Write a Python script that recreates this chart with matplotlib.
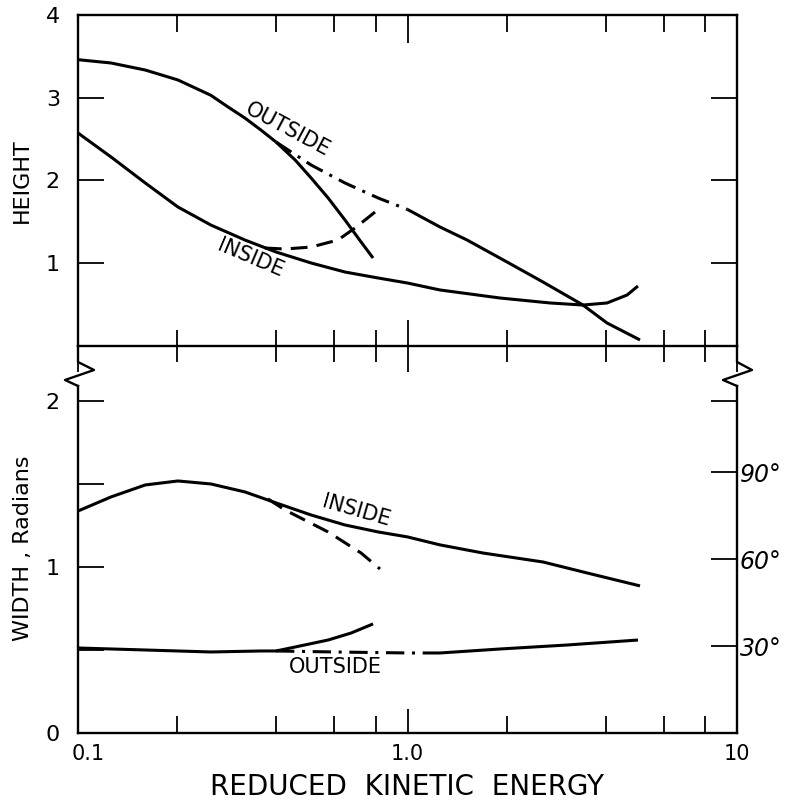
import numpy as np
import matplotlib
matplotlib.use("Agg")
from matplotlib import pyplot as plt
from matplotlib.lines import Line2D
from matplotlib.transforms import ScaledTranslation

plt.rcParams['font.family'] = ['DejaVu Sans']

# ---- data ----
# top panel (HEIGHT)
out_h_x = [0.100, 0.126, 0.160, 0.201, 0.253, 0.285, 0.321, 0.359, 0.399]
out_h_y = [3.46, 3.42, 3.335, 3.215, 3.03, 2.89, 2.755, 2.61, 2.465]
out_h_steep_x = [0.399, 0.456, 0.510, 0.574, 0.646, 0.723, 0.786]
out_h_steep_y = [2.465, 2.248, 2.03, 1.79, 1.523, 1.257, 1.063]
out_h_dd_x = [0.399, 0.510, 0.646, 0.814, 1.0]
out_h_dd_y = [2.465, 2.187, 1.97, 1.789, 1.65]
out_h_tail_x = [1.0, 1.255, 1.516, 2.005, 2.578, 3.409, 4.032, 5.077]
out_h_tail_y = [1.65, 1.438, 1.281, 1.015, 0.773, 0.495, 0.278, 0.073]

in_h_x = [0.100, 0.126, 0.160, 0.201, 0.253, 0.321, 0.399, 0.510, 0.646, 0.814,
          1.0, 1.255, 1.909, 2.707, 3.409, 4.032, 4.638, 5.006]
in_h_y = [2.574, 2.284, 1.97, 1.68, 1.462, 1.281, 1.136, 1.003, 0.894, 0.822,
          0.761, 0.677, 0.58, 0.52, 0.495, 0.52, 0.616, 0.725]
in_h_dash_x = [0.369, 0.425, 0.510, 0.615, 0.693, 0.797]
in_h_dash_y = [1.184, 1.172, 1.196, 1.281, 1.426, 1.619]

# bottom panel (WIDTH, radians)
in_w_x = [0.100, 0.126, 0.160, 0.201, 0.253, 0.321, 0.399, 0.510, 0.646, 0.814,
          1.0, 1.255, 1.695, 2.578, 3.506, 5.077]
in_w_y = [1.337, 1.422, 1.494, 1.518, 1.50, 1.452, 1.386, 1.313, 1.253, 1.211,
          1.181, 1.133, 1.084, 1.03, 0.964, 0.886]
in_w_dash_x = [0.377, 0.425, 0.574, 0.723, 0.825]
in_w_dash_y = [1.41, 1.343, 1.211, 1.084, 0.988]

out_w_x = [0.100, 0.160, 0.253, 0.359, 0.399]
out_w_y = [0.512, 0.50, 0.488, 0.494, 0.494]
out_w_rise_x = [0.399, 0.456, 0.574, 0.674, 0.786]
out_w_rise_y = [0.494, 0.518, 0.56, 0.602, 0.657]
out_w_dd_x = [0.399, 0.6, 1.0, 1.255]
out_w_dd_y = [0.494, 0.488, 0.482, 0.482]
out_w_tail_x = [1.255, 1.909, 3.049, 5.006]
out_w_tail_y = [0.482, 0.506, 0.53, 0.56]

xmajor = [0.1, 1, 10]
xminor = [0.2, 0.4, 0.6, 0.8, 2, 4, 6, 8]
xlabels = ['0.1', '1.0', '10']
deg_ticks = [30, 60, 90]

W, H = 788, 806
fig = plt.figure(figsize=(W / 100, H / 100), dpi=100)

def fx(px):
    return px / W

def fy(py):
    return 1 - py / H

ax1 = fig.add_axes([fx(78), fy(346), fx(737) - fx(78), fy(15) - fy(346)])
ax2 = fig.add_axes([fx(78), fy(733), fx(737) - fx(78), fy(386) - fy(733)])

lw = 2.2
solid = dict(color='black', lw=lw, solid_capstyle='butt')
dashed = dict(color='black', lw=lw, ls=(0, (5.5, 3)))
dashdot = dict(color='black', lw=lw, ls=(0, (6, 2.5, 1, 2.5)))

ax1.plot(out_h_x, out_h_y, **solid)
ax1.plot(out_h_steep_x, out_h_steep_y, **solid)
ax1.plot(out_h_dd_x, out_h_dd_y, **dashdot)
ax1.plot(out_h_tail_x, out_h_tail_y, **solid)
ax1.plot(in_h_x, in_h_y, **solid)
ax1.plot(in_h_dash_x, in_h_dash_y, **dashed)

ax2.plot(in_w_x, in_w_y, **solid)
ax2.plot(in_w_dash_x, in_w_dash_y, **dashed)
ax2.plot(out_w_x, out_w_y, **solid)
ax2.plot(out_w_rise_x, out_w_rise_y, **solid)
ax2.plot(out_w_dd_x, out_w_dd_y, **dashdot)
ax2.plot(out_w_tail_x, out_w_tail_y, **solid)

lab = dict(fontsize=15, color='black', ha='center', va='center')
ax1.text(0.434, 2.62, 'OUTSIDE', rotation=-28, **lab)
ax1.text(0.335, 1.06, 'INSIDE', rotation=-23, **lab)
ax2.text(0.699, 1.34, 'INSIDE', rotation=-16, **lab)
ax2.text(0.606, 0.40, 'OUTSIDE', **lab)

for ax in (ax1, ax2):
    ax.set_xscale('log')
    ax.set_xlim(0.1, 10)
    ax.set_xticks(xmajor)
    ax.set_xticks(xminor, minor=True)
    for s in ax.spines.values():
        s.set_linewidth(1.7)

# top panel
ax1.set_ylim(0, 4)
ax1.set_yticks([1, 2, 3, 4])
ax1.set_yticklabels(['1', '2', '3', '4'], fontsize=16)
ax1.tick_params(axis='y', which='both', direction='in', length=19, width=1.3,
                left=True, right=True, pad=13)
ax1.tick_params(axis='x', which='major', direction='inout', length=37, width=1.3,
                labelbottom=False)
ax1.tick_params(axis='x', which='minor', direction='inout', length=23, width=1.3)
ax1.set_ylabel('HEIGHT', fontsize=16)
ax1.yaxis.set_label_coords(-0.070, 0.5)

top = ax1.twiny()
top.set_xscale('log')
top.set_xlim(0.1, 10)
top.set_xticks(xmajor)
top.set_xticks(xminor, minor=True)
top.tick_params(axis='x', which='major', direction='in', length=20, width=1.3,
                labeltop=False)
top.tick_params(axis='x', which='minor', direction='in', length=12, width=1.3)
for s in top.spines.values():
    s.set_visible(False)

# bottom panel
ax2.set_ylim(0, 2.09)
ax2.spines['top'].set_visible(False)
ax2.set_yticks([0, 1, 2])
ax2.set_yticks([0.5, 1.5], minor=True)
ax2.set_yticklabels(['0', '1', '2'], fontsize=16)
ax2.tick_params(axis='y', which='both', direction='in', length=19, width=1.3,
                pad=13)
ax2.tick_params(axis='x', which='major', direction='in', length=17, width=1.3,
                pad=8, labelsize=15)
ax2.tick_params(axis='x', which='minor', direction='in', length=12, width=1.3)
ax2.set_xticklabels(xlabels)
lbl0 = ax2.get_xticklabels()[0]
lbl0.set_transform(lbl0.get_transform() + ScaledTranslation(0.10, 0, fig.dpi_scale_trans))
ax2.set_ylabel('WIDTH , Radians', fontsize=16)
ax2.yaxis.set_label_coords(-0.068, 0.533)
ax2.set_xlabel('REDUCED  KINETIC  ENERGY', fontsize=20)
ax2.xaxis.set_label_coords(0.5, -0.115)

rt = ax2.twinx()
rt.set_ylim(ax2.get_ylim())
rt.set_yticks(list(np.radians(deg_ticks)) + [2.0])
rt.set_yticklabels([f'{d}°' for d in deg_ticks] + [''], fontsize=17, style='italic')
rt.tick_params(axis='y', direction='in', length=19, width=1.3, pad=2)
for s in rt.spines.values():
    s.set_visible(False)

# axis break marks between the panels
for xs in ([78, 78, 94, 65, 78, 78], [737, 737, 752, 723, 737, 737]):
    ys = [346, 362, 370, 380, 386, 386]
    fig.add_artist(Line2D([fx(v) for v in xs], [fy(v) for v in ys],
                          transform=fig.transFigure, color='black', lw=1.7))

fig.savefig('out.png', dpi=100)
